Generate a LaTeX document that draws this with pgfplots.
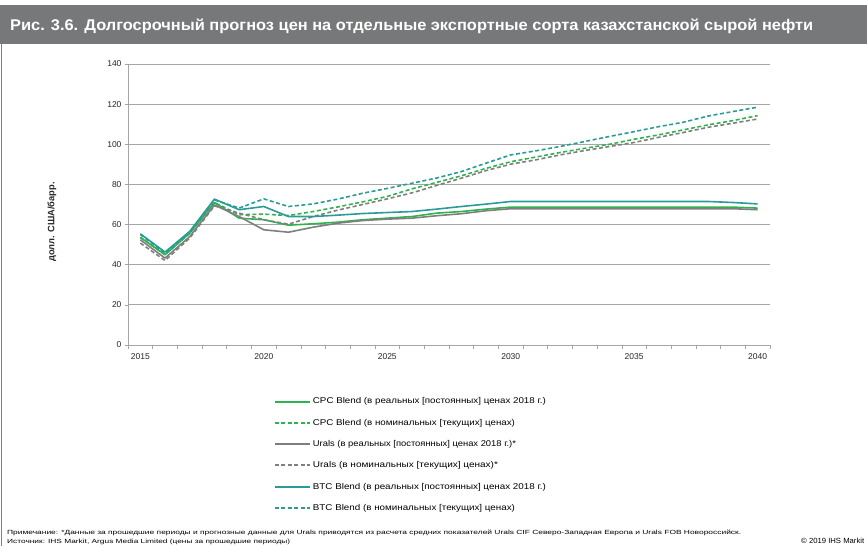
\documentclass[border=0pt]{standalone}
\usepackage{fontspec}
\setmainfont{Liberation Sans}
\usepackage{graphicx}
\usepackage{pgfplots}
\usepackage{pgfplotstable}
\pgfplotsset{compat=1.18}
\definecolor{cpc}{HTML}{2DB34F}
\definecolor{urals}{HTML}{7F7F7F}
\definecolor{btc}{HTML}{2A9B98}
\definecolor{titlebar}{HTML}{76787A}
\definecolor{gridc}{HTML}{A6A6A6}

\pgfplotstableread{
year cpcR cpcN uraR uraN btcR btcN
2015 53.6 53.6 52.4 50.8 55.4 55.0
2016 45.0 45.0 43.3 42.1 46.3 45.8
2017 55.7 55.7 54.0 53.3 56.6 56.2
2018 71.0 71.0 69.8 69.3 72.7 72.3
2019 63.2 64.9 64.0 65.7 67.4 68.2
2020 62.4 65.2 57.4 62.4 69.0 72.8
2021 59.7 64.5 56.2 60.2 64.0 69.0
2022 60.4 66.5 58.7 64.0 64.0 70.3
2023 61.2 68.8 60.7 67.2 64.7 72.7
2024 62.4 71.3 62.0 70.0 65.5 75.6
2025 63.2 74.0 62.7 72.8 66.0 78.0
2026 64.0 77.8 63.2 75.8 66.5 80.6
2027 65.7 81.0 64.4 79.5 67.7 83.2
2028 66.5 84.3 65.4 83.1 69.0 86.4
2029 67.7 88.0 66.9 86.9 70.2 90.6
2030 68.7 91.3 67.9 90.1 71.5 94.7
2031 68.7 93.6 67.9 92.2 71.5 96.7
2032 68.7 95.9 67.9 94.7 71.5 98.9
2033 68.7 98.0 67.9 96.9 71.5 101.4
2034 68.7 100.0 67.9 98.9 71.5 103.9
2035 68.7 102.5 67.9 100.9 71.5 106.3
2036 68.7 104.7 67.9 103.5 71.5 108.8
2037 68.7 107.2 67.9 105.9 71.5 111.0
2038 68.7 109.7 67.9 108.5 71.5 114.1
2039 68.7 111.8 67.9 110.5 71.0 116.3
2040 68.2 114.3 67.4 112.6 70.3 118.5
}\oildata

\tikzset{
  sR/.style={line width=1.6pt, line join=round, solid},
  sN/.style={line width=1.6pt, line join=round, dash pattern=on 4pt off 2.5pt},
}
\newcommand{\lgd}[2]{\resizebox{#1}{\height}{#2}}

\begin{document}
\begin{tikzpicture}[x=1pt,y=1pt]
\useasboundingbox (0,0) rectangle (867,-546);
\fill[titlebar] (0,-5) rectangle (867,-44);
\node[anchor=base west, inner sep=0, text=white, font=\bfseries\fontsize{15.5}{18}\selectfont] at (10,-30.7) {\resizebox{803pt}{\height}{Рис. 3.6. Долгосрочный прогноз цен на отдельные экспортные сорта казахстанской сырой нефти}};
\draw[gray, line width=0.8] (1,-44) -- (1,-546);

\begin{axis}[
  scale only axis, width=642pt, height=281pt,
  at={(128pt,-345pt)}, anchor=south west,
  xmin=2014.5, xmax=2040.5, ymin=0, ymax=140,
  axis x line=bottom, axis y line=left,
  axis line style={-, draw=gridc, line width=0.8pt},
  xtick={2015,2020,2025,2030,2035,2040},
  xticklabels={2015,2020,2025,2030,2035,2040},
  minor xtick={2014.5,2015.5,...,2040.5},
  ytick={0,20,...,140},
  ymajorgrids, major grid style={draw=gridc, line width=0.8pt},
  tick align=outside, major tick length=3pt, minor tick length=3.5pt,
  major x tick style={draw=none},
  minor x tick style={draw=gridc, line width=0.6pt},
  y tick style={draw=gridc, line width=0.6pt},
  /pgf/number format/assume math mode=true,
  tick label style={font=\fontsize{8.5}{10}\selectfont, text=black!85},
  xticklabel style={yshift=-2pt},
  legend style={at={(0.227,-0.18)}, anchor=north west, draw=none, fill=none,
    font=\fontsize{8.4}{10}\selectfont, row sep=9.7pt, inner sep=0pt},
  legend cell align=left,
  legend image code/.code={\draw[#1, line width=2pt] (0pt,0pt) -- (35pt,0pt);},
]
\addplot[cpc, sR, forget plot] table[x=year, y=cpcR] {\oildata};
\addplot[cpc, sN, forget plot] table[x=year, y=cpcN] {\oildata};
\addplot[urals, sR, forget plot] table[x=year, y=uraR] {\oildata};
\addplot[urals, sN, forget plot] table[x=year, y=uraN] {\oildata};
\addplot[btc, sR, forget plot] table[x=year, y=btcR] {\oildata};
\addplot[btc, sN, forget plot] table[x=year, y=btcN] {\oildata};

\addlegendimage{cpc, sR}
\addlegendentry{\lgd{233pt}{CPC Blend (в реальных [постоянных] ценах 2018 г.)}}
\addlegendimage{cpc, sN}
\addlegendentry{\lgd{202pt}{CPC Blend (в номинальных [текущих] ценах)}}
\addlegendimage{urals, sR}
\addlegendentry{\lgd{203pt}{Urals (в реальных [постоянных] ценах 2018 г.)*}}
\addlegendimage{urals, sN}
\addlegendentry{\lgd{185pt}{Urals (в номинальных [текущих] ценах)*}}
\addlegendimage{btc, sR}
\addlegendentry{\lgd{233pt}{BTC Blend (в реальных [постоянных] ценах 2018 г.)}}
\addlegendimage{btc, sN}
\addlegendentry{\lgd{202pt}{BTC Blend (в номинальных [текущих] ценах)}}
\end{axis}

\node[rotate=90, font=\bfseries\fontsize{9.3}{11}\selectfont, text=black!85] at (52,-222) {долл. США/барр.};

\node[anchor=base west, inner sep=0, font=\fontsize{6}{7}\selectfont] at (7,-534.5) {\resizebox{734pt}{\height}{Примечание: *Данные за прошедшие периоды и прогнозные данные для Urals приводятся из расчета средних показателей Urals CIF Северо-Западная Европа и Urals FOB Новороссийск.}};
\node[anchor=base west, inner sep=0, font=\fontsize{6}{7}\selectfont] at (7,-543.5) {\resizebox{283pt}{\height}{Источник: IHS Markit, Argus Media Limited (цены за прошедшие периоды)}};
\node[anchor=base west, inner sep=0, font=\fontsize{7.5}{9}\selectfont] at (801,-543.5) {\resizebox{63pt}{\height}{© 2019 IHS Markit}};
\end{tikzpicture}
\end{document}
